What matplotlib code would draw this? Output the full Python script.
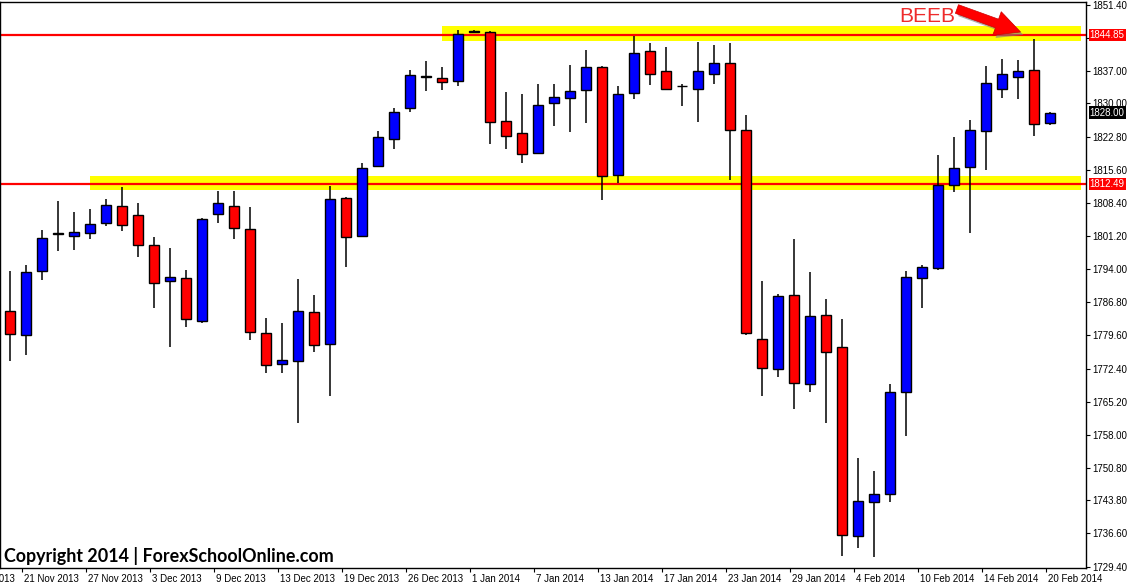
import matplotlib
matplotlib.use("Agg")
import matplotlib.pyplot as plt
import matplotlib.patheffects as pe
from matplotlib.transforms import ScaledTranslation, blended_transform_factory

# daily candles (oldest first)
opens = [1784.88, 1779.66, 1793.58, 1801.65, 1801.18, 1801.81, 1804.03, 1807.74, 1805.77, 1799.28,
         1791.37, 1792.08, 1782.67, 1805.92, 1807.74, 1802.76, 1780.13, 1773.33, 1773.96, 1784.64,
         1777.76, 1809.48, 1801.18, 1816.37, 1822.30, 1829.03, 1835.83, 1835.59, 1834.96, 1845.50,
         1845.56, 1826.26, 1823.65, 1819.22, 1830.13, 1831.17, 1832.90, 1837.81, 1814.47, 1832.27,
         1841.29, 1836.94, 1833.69, 1833.22, 1836.38, 1838.84, 1824.12, 1778.79, 1772.30, 1788.36,
         1769.05, 1784.01, 1777.05, 1736.06, 1743.50, 1745.24, 1767.39, 1792.08, 1794.21, 1812.25,
         1816.21, 1824.04, 1833.22, 1835.75, 1837.33, 1825.78]
highs = [1793.66, 1794.93, 1802.60, 1808.70, 1806.32, 1806.95, 1809.33, 1811.94, 1808.46, 1801.02,
         1798.64, 1793.90, 1805.21, 1810.99, 1810.99, 1807.42, 1783.45, 1782.35, 1791.92, 1788.44,
         1812.10, 1809.72, 1817.08, 1823.96, 1828.95, 1837.18, 1839.15, 1837.89, 1845.88, 1845.90,
         1845.64, 1832.43, 1831.95, 1834.17, 1834.17, 1838.28, 1841.53, 1838.05, 1833.69, 1844.69,
         1843.11, 1842.24, 1834.17, 1843.27, 1842.63, 1843.11, 1827.44, 1791.52, 1788.67, 1800.62,
         1793.27, 1787.57, 1783.22, 1753.00, 1750.15, 1769.05, 1793.50, 1794.93, 1818.82, 1822.62,
         1826.34, 1838.05, 1839.63, 1839.39, 1843.98, 1828.20]
lows = [1773.96, 1775.30, 1791.60, 1798.01, 1798.25, 1800.62, 1803.47, 1802.29, 1796.59, 1785.59,
        1777.12, 1781.48, 1782.35, 1804.10, 1800.46, 1778.71, 1771.35, 1771.35, 1760.67, 1775.94,
        1766.52, 1794.45, 1800.94, 1816.20, 1820.08, 1828.16, 1832.75, 1832.90, 1833.77, 1845.30,
        1821.20, 1820.08, 1817.08, 1818.98, 1825.00, 1823.72, 1825.70, 1809.01, 1812.65, 1831.00,
        1834.01, 1833.10, 1829.42, 1825.94, 1834.25, 1813.36, 1779.66, 1766.52, 1770.48, 1763.52,
        1767.23, 1760.67, 1731.71, 1733.53, 1731.55, 1743.50, 1757.82, 1785.59, 1793.82, 1810.75,
        1801.81, 1815.50, 1831.17, 1831.00, 1822.94, 1825.31]
closes = [1779.89, 1793.42, 1800.78, 1801.65, 1802.13, 1803.87, 1807.98, 1803.55, 1799.20, 1790.97,
          1792.32, 1783.06, 1804.90, 1808.46, 1802.92, 1780.29, 1773.09, 1774.20, 1784.88, 1777.52,
          1809.25, 1801.02, 1816.05, 1822.77, 1828.23, 1836.07, 1835.99, 1834.72, 1845.01, 1845.62,
          1826.02, 1823.01, 1819.06, 1829.74, 1831.48, 1832.75, 1837.81, 1814.31, 1832.11, 1841.05,
          1836.38, 1833.22, 1833.69, 1836.94, 1838.68, 1824.28, 1780.13, 1772.46, 1788.20, 1769.21,
          1783.85, 1775.94, 1736.30, 1743.74, 1745.08, 1767.31, 1792.32, 1794.45, 1812.17, 1816.05,
          1824.28, 1834.33, 1836.46, 1837.10, 1825.54, 1828.00]

# first label is cut off by the left edge of the chart (as in the original)
first_label = "18 Nov 2013"
first_pos = -3.3
date_labels = ["21 Nov 2013", "27 Nov 2013", "3 Dec 2013", "9 Dec 2013",
               "13 Dec 2013", "19 Dec 2013", "26 Dec 2013", "1 Jan 2014", "7 Jan 2014",
               "13 Jan 2014", "17 Jan 2014", "23 Jan 2014", "29 Jan 2014", "4 Feb 2014",
               "10 Feb 2014", "14 Feb 2014", "20 Feb 2014"]
date_pos = [0.73 + 4 * k for k in range(17)]

price_ticks = [1851.40, 1844.20, 1837.00, 1830.00, 1822.80, 1815.60, 1808.40, 1801.20, 1794.00,
               1786.80, 1779.60, 1772.40, 1765.20, 1758.00, 1750.80, 1743.80, 1736.60, 1729.40]

resistance = 1844.85
support = 1812.49
last_price = 1828.00
zone_top = (26.96, 1843.5, 1846.75)   # start bar, low, high
zone_bot = (4.98, 1811.1, 1814.15)

fig = plt.figure(figsize=(11.3, 5.85), dpi=100)
ax = fig.add_axes([0, 17 / 585, 1086 / 1130, 566 / 585])

# yellow zones
for start, lo, hi in (zone_top, zone_bot):
    ax.fill_between([start, 66.9], lo, hi, color="#ffff00", lw=0, zorder=1)
ax.axhline(resistance, color="#ff0000", lw=1.6, zorder=2)
ax.axhline(support, color="#ff0000", lw=1.6, zorder=2)

# candles
n = len(opens)
idx = list(range(n))
ax.vlines(idx, lows, highs, color="black", lw=1.1, zorder=3)
bottoms = [min(o, c) for o, c in zip(opens, closes)]
heights = [max(abs(c - o), 0.12) for o, c in zip(opens, closes)]
colors = ["#0000ff" if c > o else "#ff0000" for o, c in zip(opens, closes)]
ax.bar(idx, heights, bottom=bottoms, width=0.62, color=colors, edgecolor="black",
       linewidth=1.0, zorder=4)

# axis look
for s in ax.spines.values():
    s.set_color("black")
    s.set_linewidth(1.0)
ax.yaxis.tick_right()
ax.set_yticks(price_ticks)
# 1844.20 sits under the red price box, so only its tick mark shows
ax.set_yticklabels(["" if v == 1844.20 else f"{v:.2f}" for v in price_ticks])
ax.tick_params(axis="y", direction="out", length=3, width=0.8, pad=1.5, labelsize=7,
               colors="black")
ax.set_xticks(date_pos)
ax.set_xticklabels(date_labels)
ax.tick_params(axis="x", direction="out", length=3, width=0.8, pad=1, labelsize=7)
off = ScaledTranslation(2 / 100, 0, fig.dpi_scale_trans)
for lab in ax.get_xticklabels():
    lab.set_ha("left")
    lab.set_transform(lab.get_transform() + off)
for lab in ax.get_xticklabels() + ax.get_yticklabels():
    lab.set_fontfamily("Liberation Sans")

ax.set_xlim(-0.644, 67.23)
ax.set_ylim(1729.08, 1852.02)

xtr = blended_transform_factory(ax.transData, ax.transAxes)
ax.text(first_pos, -0.0105, first_label, transform=xtr + off, ha="left", va="top",
        fontsize=7, family="Liberation Sans", clip_on=False)

# price boxes on the right scale
tr = blended_transform_factory(ax.transAxes, ax.transData)
for val, bg in ((resistance, "#ff0000"), (support, "#ff0000"), (last_price, "black")):
    ax.text(1.0035, val, f"{val:.2f}", transform=tr, ha="left", va="center", fontsize=7,
            family="Liberation Sans", color="white", zorder=10, clip_on=False,
            bbox=dict(boxstyle="square,pad=0.12", fc=bg, ec="none"))

# annotation
ax.text(57.3, 1848.8, "BEEB", color="#ee2b2b", fontsize=15, family="Liberation Sans",
        ha="center", va="center", zorder=6)
ax.annotate("", xy=(63.3, 1845.3), xytext=(59.0, 1850.7), zorder=6,
            arrowprops=dict(arrowstyle="simple,head_length=1.5,head_width=1.5,tail_width=0.55",
                            mutation_scale=12, fc="#ff0000", ec="#d00000", lw=0.5,
                            path_effects=[pe.SimplePatchShadow(offset=(2, -2),
                                                               shadow_rgbFace="gray", alpha=0.6),
                                          pe.Normal()]))

ax.text(0.0037, 0.011, "Copyright 2014 | ForexSchoolOnline.com", transform=ax.transAxes,
        fontsize=12.9, fontweight="bold", family="Lato", color="black", ha="left",
        va="baseline", zorder=7)

fig.savefig("out.png", dpi=100, facecolor="white")
